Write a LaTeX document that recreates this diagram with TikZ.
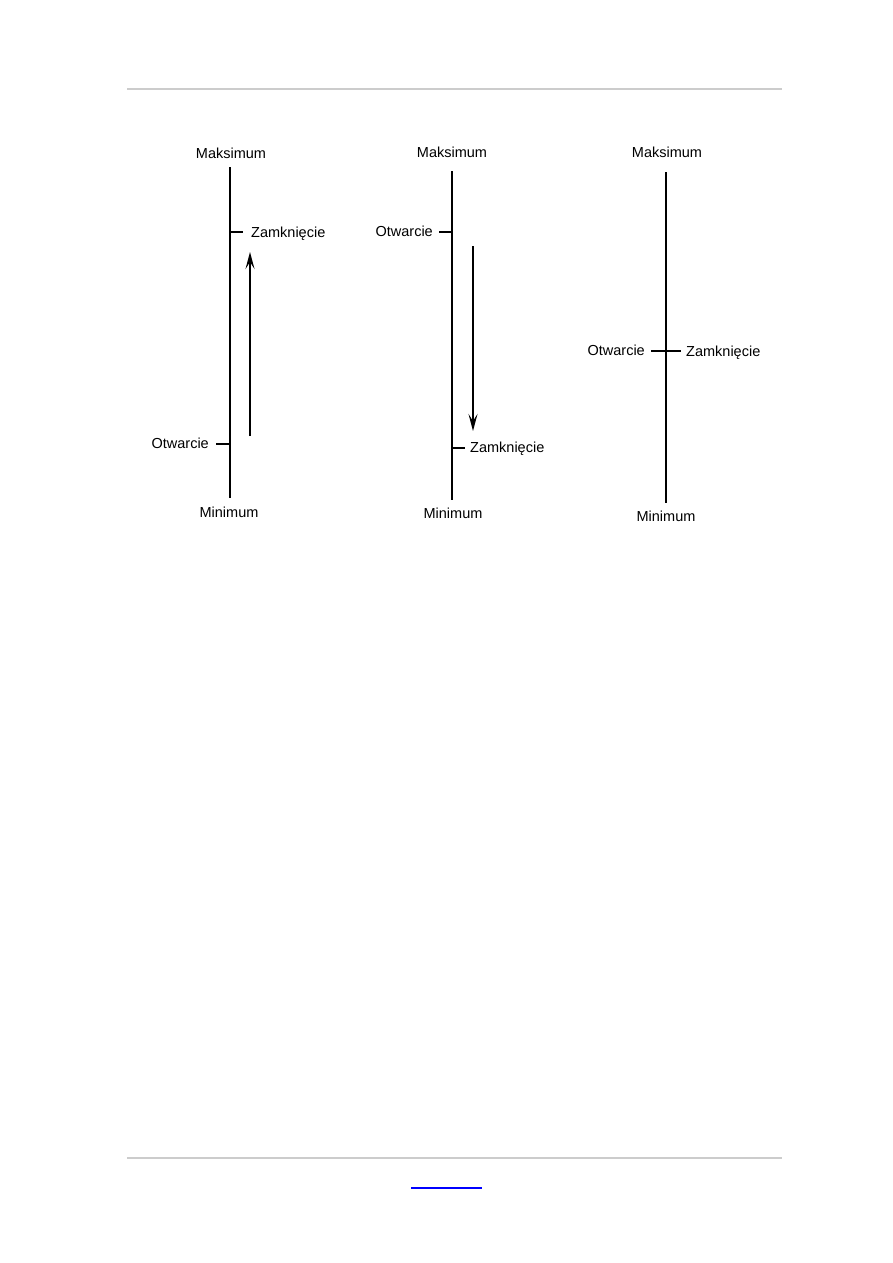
\documentclass[tikz,border=0pt]{standalone}
\usepackage{fontspec}
\setmainfont{Liberation Sans}
\usetikzlibrary{arrows.meta,positioning}
\definecolor{rulegray}{RGB}{204,204,204}
\definecolor{linkblue}{RGB}{0,0,255}

\begin{document}
\begin{tikzpicture}[x=1pt,y=-1pt,
    every node/.style={font=\fontsize{14.5}{17}\selectfont, inner sep=0pt},
    axis/.style={line width=2pt},
    tick/.style={line width=2pt},
    move/.style={line width=1.5pt, -{Stealth[length=17pt,width=9pt,inset=7pt]}}]
  \useasboundingbox (0,0) rectangle (893,1263);

  % page rules
  \draw[rulegray, line width=2pt] (127,89) -- (782,89);
  \draw[rulegray, line width=2pt] (127,1158) -- (782,1158);
  \draw[linkblue, line width=1.2pt] (411,1188) -- (482,1188);

  % bar 1: rising
  \coordinate (top1) at (230,167);
  \coordinate (bot1) at (230,498);
  \draw[axis] (top1) -- (bot1);
  \node[anchor=base] (max1) at (231,158) {Maksimum};
  \node[anchor=base] (min1) at (229,517) {Minimum};
  \coordinate (c1) at (230,232);
  \coordinate (c1e) at (243,232);
  \draw[tick] (c1) -- (c1e);
  \node[anchor=base west] (close1) at (251,237) {Zamknięcie};
  \coordinate (o1) at (230,444);
  \coordinate (o1e) at (216,444);
  \draw[tick] (o1) -- (o1e);
  \node[anchor=base east] (open1) at (209,448) {Otwarcie};
  \coordinate (a1s) at (250,436);
  \coordinate (a1e) at (250,252);
  \draw[move] (a1s) -- (a1e);

  % bar 2: falling
  \coordinate (top2) at (452,171);
  \coordinate (bot2) at (452,500);
  \draw[axis] (top2) -- (bot2);
  \node[anchor=base] (max2) at (452,157) {Maksimum};
  \node[anchor=base] (min2) at (453,518) {Minimum};
  \coordinate (o2) at (452,232);
  \coordinate (o2e) at (439,232);
  \draw[tick] (o2) -- (o2e);
  \node[anchor=base east] (open2) at (433,236) {Otwarcie};
  \coordinate (c2) at (452,448);
  \coordinate (c2e) at (465,448);
  \draw[tick] (c2) -- (c2e);
  \node[anchor=base west] (close2) at (470,452) {Zamknięcie};
  \coordinate (a2s) at (473,246);
  \coordinate (a2e) at (473,431);
  \draw[move] (a2s) -- (a2e);

  % bar 3: doji
  \coordinate (top3) at (666,172);
  \coordinate (bot3) at (666,503);
  \draw[line width=1.5pt] (top3) -- (bot3);
  \node[anchor=base] (max3) at (667,157) {Maksimum};
  \node[anchor=base] (min3) at (666,521) {Minimum};
  \coordinate (oc3w) at (651,351);
  \coordinate (oc3e) at (681,351);
  \draw[line width=1.5pt] (oc3w) -- (oc3e);
  \node[anchor=base east] (open3) at (645,355) {Otwarcie};
  \node[anchor=base west] (close3) at (686,356) {Zamknięcie};
\end{tikzpicture}
\end{document}
